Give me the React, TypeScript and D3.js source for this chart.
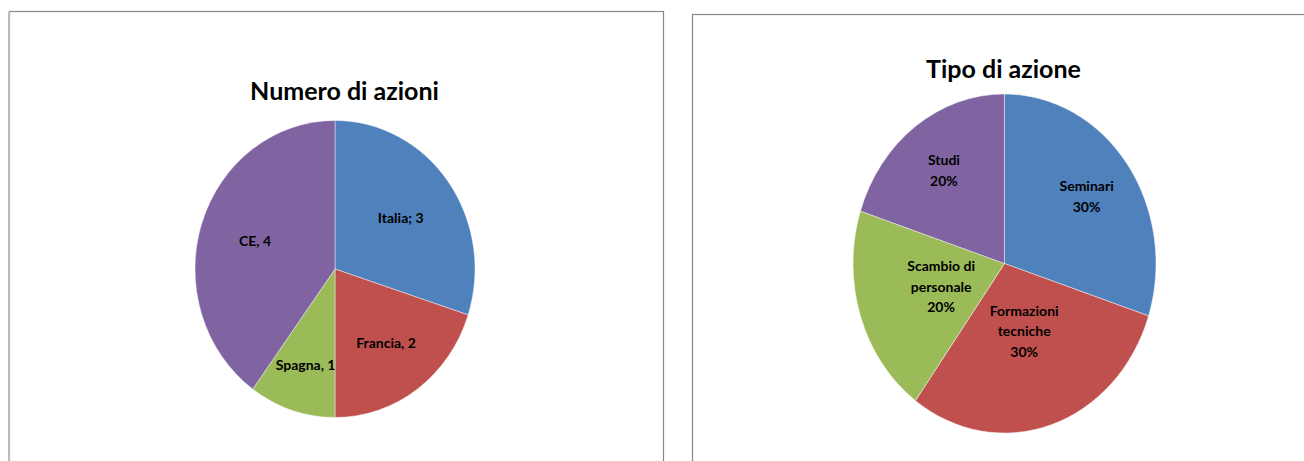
import React, { useEffect, useRef } from 'react';
import * as d3 from 'd3';

// Left chart: "Numero di azioni"
const leftCategories = ['Italia', 'Francia', 'Spagna', 'CE'];
const leftValues = [3, 2, 1, 4];
const leftSeparators = ['; ', ', ', ', ', ', '];

// Right chart: "Tipo di azione"
const rightCategories = [['Seminari'], ['Formazioni', 'tecniche'], ['Scambio di', 'personale'], ['Studi']];
const rightValues = [30, 30, 20, 20];

const colors = ['#4F81BD', '#C0504D', '#9BBB59', '#8064A2'];

// label distance from centre, as a fraction of the radius (layout only)
const leftLabelR = [0.58, 0.62, 0.68, 0.6];
const rightLabelR = [0.67, 0.42, 0.44, 0.68];

const FONT = 'Lato, "Open Sans", sans-serif';

const W = 1304;
const H = 461;

const App: React.FC = () => {
  const svgRef = useRef<SVGSVGElement>(null);

  useEffect(() => {
    if (!svgRef.current) return;
    const svg = d3.select(svgRef.current);
    svg.selectAll('*').remove();

    // panel frames
    svg.append('rect')
      .attr('x', 9.5).attr('y', 11.5)
      .attr('width', 654).attr('height', 470)
      .attr('fill', '#fff')
      .attr('stroke', '#888').attr('stroke-width', 1.2);
    svg.append('line')
      .attr('x1', 9).attr('x2', 9).attr('y1', 12).attr('y2', H)
      .attr('stroke', '#bbb').attr('stroke-width', 2);
    svg.append('rect')
      .attr('x', 692.5).attr('y', 14.5)
      .attr('width', 640).attr('height', 470)
      .attr('fill', '#fff')
      .attr('stroke', '#888').attr('stroke-width', 1.2);

    const drawPie = (
      cx: number, cy: number, rx: number, ry: number,
      values: number[], labelLines: string[][], labelR: number[],
      title: string, titleX: number, titleY: number
    ) => {
      const g = svg.append('g');

      g.append('text')
        .attr('x', titleX).attr('y', titleY)
        .attr('text-anchor', 'middle')
        .attr('font-family', FONT)
        .attr('font-weight', 'bold')
        .attr('font-size', '25px')
        .attr('fill', '#000')
        .text(title);

      const pie = d3.pie<number>().sort(null).value(d => d);
      const arcs = pie(values);
      const arc = d3.arc<d3.PieArcDatum<number>>().innerRadius(0).outerRadius(rx);

      const pg = g.append('g')
        .attr('transform', `translate(${cx},${cy}) scale(1,${ry / rx})`);
      pg.selectAll('path')
        .data(arcs)
        .enter()
        .append('path')
        .attr('d', arc)
        .attr('fill', (_, i) => colors[i])
        .attr('stroke', '#fff')
        .attr('stroke-width', 0.6)
        .attr('stroke-opacity', 0.7);

      const lineH = 20.5;
      arcs.forEach((a, i) => {
        const mid = (a.startAngle + a.endAngle) / 2;
        const r = rx * labelR[i];
        const lx = cx + Math.sin(mid) * r;
        const ly = cy - Math.cos(mid) * r * (ry / rx);
        const lines = labelLines[i];
        const t = g.append('text')
          .attr('text-anchor', 'middle')
          .attr('font-family', FONT)
          .attr('font-weight', 'bold')
          .attr('font-size', '14px')
          .attr('fill', '#000');
        lines.forEach((ln, j) => {
          t.append('tspan')
            .attr('x', lx)
            .attr('y', ly + (j - (lines.length - 1) / 2) * lineH + 5)
            .text(ln);
        });
      });
    };

    drawPie(
      335, 269, 140, 148.5,
      leftValues,
      leftCategories.map((c, i) => [`${c}${leftSeparators[i]}${leftValues[i]}`]),
      leftLabelR,
      'Numero di azioni', 344.5, 100
    );

    const rightTotal = d3.sum(rightValues);
    drawPie(
      1004.5, 263.5, 151.5, 169.5,
      rightValues,
      rightCategories.map((c, i) => [...c, `${Math.round((rightValues[i] / rightTotal) * 100)}%`]),
      rightLabelR,
      'Tipo di azione', 1003.5, 78
    );
  }, []);

  return (
    <svg
      ref={svgRef}
      width={W}
      height={H}
      style={{ position: 'absolute', left: 0, top: 0, background: '#fff' }}
    />
  );
};

export default App;
